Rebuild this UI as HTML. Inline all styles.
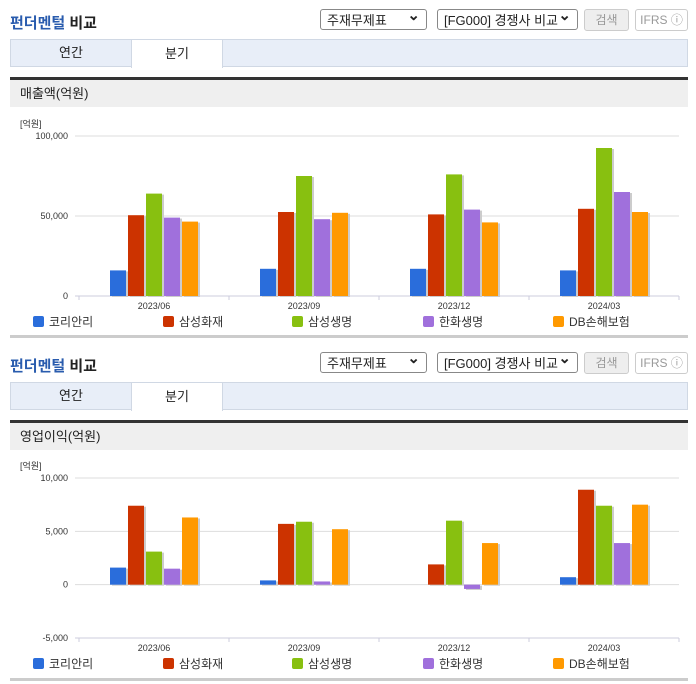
<!DOCTYPE html>
<html><head><meta charset="utf-8">
<style>
body{margin:0;width:696px;height:684px;background:#fff;font-family:"Liberation Sans","Noto Sans CJK KR",sans-serif;position:relative;overflow:hidden}
.abs{position:absolute}
.title{left:10px;font-size:15px;font-weight:bold;color:#222}
.title span{color:#2a5cae}
.sel{height:21px;border:1px solid #888;border-radius:3px;background:#fff;font-size:13px;color:#222;line-height:21px;padding-left:6px;box-sizing:border-box}
.sel:after{content:"⌄";position:absolute;right:6px;top:-5px;font-size:15px;font-weight:bold}
.btn{height:22px;border:1px solid #ccc;border-radius:3px;background:#eee;font-size:12px;color:#999;text-align:center;line-height:20px;box-sizing:border-box}
.tabs{left:10px;width:678px;height:28px;background:#e8eef8;border:1px solid #d0d8e4;box-sizing:border-box}
.tab{top:-1px;height:29px;font-size:13px;line-height:28px;text-align:center;color:#222}
.hdr{left:10px;width:678px;height:30px;background:#efefef;border-top:3px solid #333;font-size:13px;line-height:28px;padding-left:10px;box-sizing:border-box;color:#222}
.bot{left:10px;width:678px;height:3px;background:#ccc}
svg text{font-family:"Liberation Sans","Noto Sans CJK KR",sans-serif}
</style></head><body>
<div id="root"></div>
<script>
const categories=["2023/06","2023/09","2023/12","2024/03"];
const seriesNames=["코리안리","삼성화재","삼성생명","한화생명","DB손해보험"];
const colors=["#2a6ddb","#cc3300","#88c010","#a070dc","#ff9900"];
const sales=[[16000,17000,17000,16000],[50500,52500,51000,54500],[64000,75000,76000,92500],[49000,48000,54000,65000],[46500,52000,46000,52500]];
const salesTicks=[0,50000,100000];
const opInc=[[1600,400,0,700],[7400,5700,1900,8900],[3100,5900,6000,7400],[1500,300,-400,3900],[6300,5200,3900,7500]];
const opTicks=[-5000,0,5000,10000];
const fmt=v=>v.toLocaleString('en-US');
function section(off,hdrText,vals,ticks,yTop,yBot,name){
  const r=document.getElementById('root');
  const h=`
  <div class="abs title" style="top:${off+12}px"><span>펀더멘털</span> 비교</div>
  <div class="abs sel" style="left:320px;top:${off+9}px;width:107px">주재무제표</div>
  <div class="abs sel" style="left:437px;top:${off+9}px;width:141px">[FG000] 경쟁사 비교</div>
  <div class="abs btn" style="left:584px;top:${off+9}px;width:45px">검색</div>
  <div class="abs btn" style="left:635px;top:${off+9}px;width:53px;background:#fff">IFRS ⓘ</div>
  <div class="abs tabs" style="top:${off+39}px">
    <div class="abs tab" style="left:0;width:120px">연간</div>
    <div class="abs tab" style="left:120px;width:92px;background:#fff;border:1px solid #d0d8e4;border-bottom:none;box-sizing:border-box">분기</div>
  </div>
  <div class="abs hdr" style="top:${off+77}px">${hdrText}</div>
  <div class="abs bot" style="top:${off+335}px"></div>`;
  r.insertAdjacentHTML('beforeend',h);
  const NS='http://www.w3.org/2000/svg';
  const svg=document.createElementNS(NS,'svg');
  svg.setAttribute('width',696);svg.setAttribute('height',230);
  svg.style.position='absolute';svg.style.left='0';svg.style.top=(off+110)+'px';
  
  
  r.appendChild(svg);
  const x0=79,x1=679,band=(x1-x0)/categories.length;
  const tmin=ticks[0],tmax=ticks[ticks.length-1];
  const y=v=>yBot-(v-tmin)/(tmax-tmin)*(yBot-yTop);
  const zy=y(0);
  const el=(t,a,txt)=>{const e=document.createElementNS(NS,t);for(const k in a)e.setAttribute(k,a[k]);if(txt!=null)e.textContent=txt;svg.appendChild(e);return e;};
  const u=el('text',{x:20,y:y(tmax)-9,'font-size':9,fill:'#333'},'[억원]');
  
  
  ticks.forEach(t=>{
    const g=el('line',{x1:x0-4,x2:x1,y1:y(t),y2:y(t),stroke:'#ddd'});
    
    
    const l=el('text',{x:68,y:y(t)+3,'font-size':9,'text-anchor':'end',fill:'#333'},fmt(t));
    
    
  });
  el('line',{x1:x0-4,x2:x1,y1:yBot,y2:yBot,stroke:'#ccd'});
  categories.forEach((c,i)=>{
    const cx=x0+band*(i+0.5);
    el('line',{x1:x0+band*i,x2:x0+band*i,y1:yBot,y2:yBot+4,stroke:'#ccd'});
    const t=el('text',{x:cx,y:yBot+13,'font-size':9,'text-anchor':'middle',fill:'#333'},c);
    
    
    vals.forEach((s,j)=>{
      const v=s[i];if(v===0)return;
      const bx=cx-44+j*18,top=Math.min(y(v),zy),hgt=Math.abs(y(v)-zy);
      el('rect',{x:bx+2,y:top+1,width:16,height:hgt,fill:'#ccc'});
      const b=el('rect',{x:bx,y:top,width:16,height:hgt,fill:colors[j]});
      
      
    });
  });
  el('line',{x1:x1,x2:x1,y1:yBot,y2:yBot+4,stroke:'#ccd'});
  const lx=[33,163,292,423,553];
  seriesNames.forEach((n,j)=>{
    const sq=el('rect',{x:lx[j],y:yBot+20,width:11,height:11,rx:2,fill:colors[j]});
    
    
    const t=el('text',{x:lx[j]+16,y:yBot+30,'font-size':12,fill:'#333'},n);
    
    
  });
}
section(0,"매출액(억원)",sales,salesTicks,26,186,'sales-chart');
section(343,"영업이익(억원)",opInc,opTicks,25,185,'operating-income-chart');
</script>
</body></html>
